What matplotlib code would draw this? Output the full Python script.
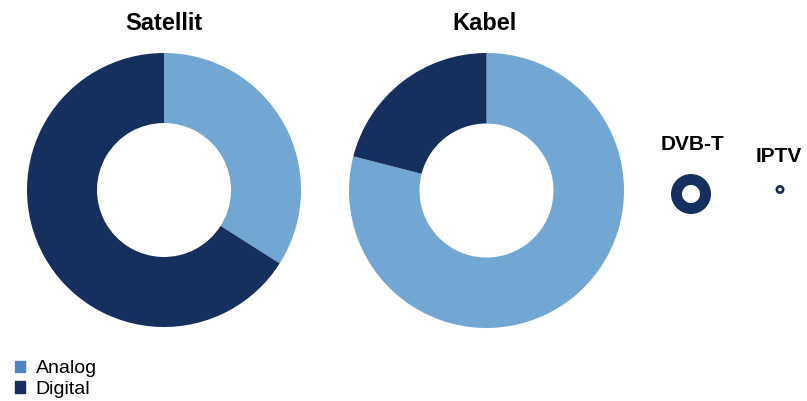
import matplotlib
matplotlib.use("Agg")
import matplotlib.pyplot as plt
from matplotlib.patches import Patch

plt.rcParams['font.family'] = ['Liberation Sans', 'DejaVu Sans']

# Data
platforms = ["Satellit", "Kabel", "DVB-T", "IPTV"]
series = ["Analog", "Digital"]
analog_share = [34, 79, 0, 0]
digital_share = [66, 21, 100, 100]

# Layout (pixels)
centers = [(164, 190), (486.5, 190.5), (691, 194), (780, 189.5)]
radii = [137, 137.5, 20, 4.5]
hole = [67, 67, 9, 1.8]
title_pos = [(164, 23, 17), (485, 23, 17), (692, 144, 15), (779, 157, 15)]

c_analog = "#72a7d3"
c_digital = "#15305e"
c_analog_leg = "#4b86c3"

W, H = 807, 401
fig = plt.figure(figsize=(W / 100, H / 100), dpi=100)
ax = fig.add_axes([0, 0, 1, 1])

for i, name in enumerate(platforms):
    cx, cy = centers[i]
    r = radii[i]
    vals = [analog_share[i], digital_share[i]]
    ax.pie(vals, colors=[c_analog, c_digital], startangle=90, counterclock=False,
           center=(cx, H - cy), radius=r, frame=True,
           wedgeprops=dict(width=r - hole[i], linewidth=0))
    tx, ty, fs = title_pos[i]
    ax.text(tx, H - ty, name, ha="center", va="center", fontsize=fs,
            fontweight="bold", color="black")

ax.set_xlim(0, W)
ax.set_ylim(0, H)
ax.set_aspect("equal")
ax.axis("off")

handles = [Patch(color=c_analog_leg, label=series[0]),
           Patch(color=c_digital, label=series[1])]
fig.legend(handles=handles, loc="lower left", bbox_to_anchor=(15 / W, 3 / H),
           frameon=False, fontsize=14, handlelength=0.52, handleheight=0.52,
           handletextpad=0.55, labelspacing=0.2, borderpad=0, borderaxespad=0)

fig.savefig("out.png", dpi=100)
